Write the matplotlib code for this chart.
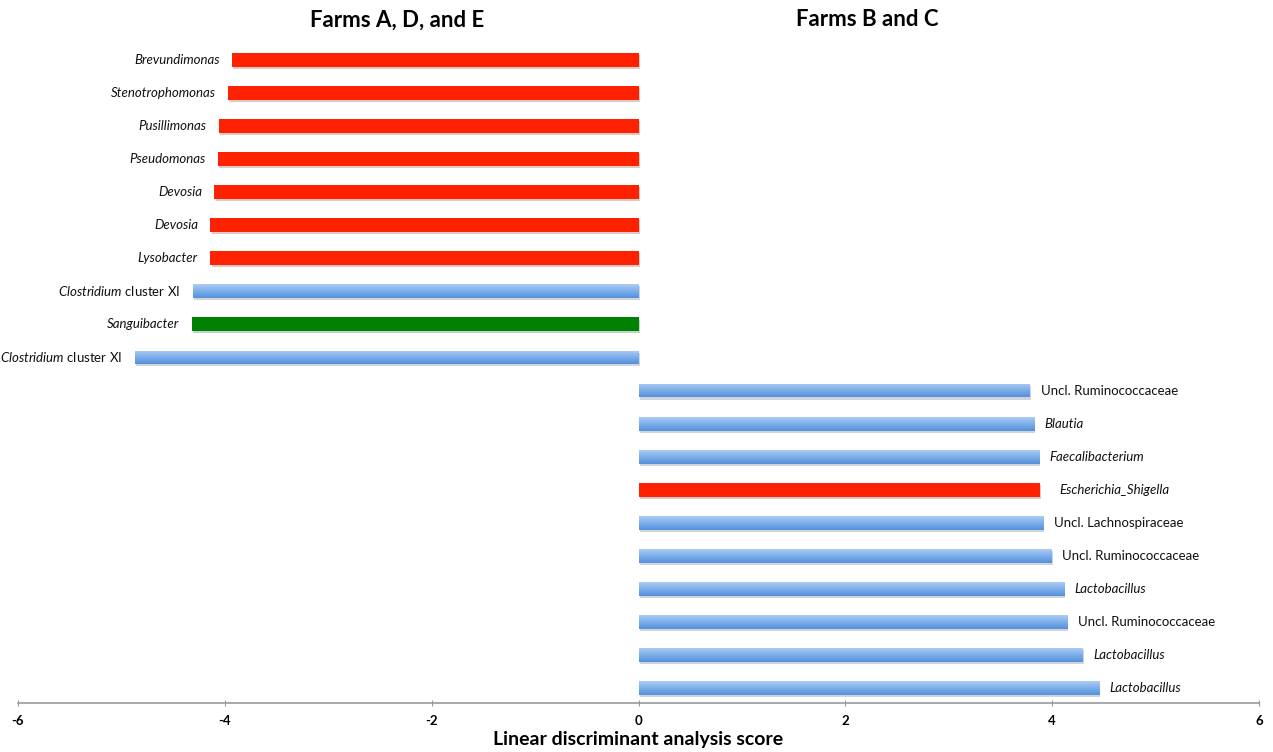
import numpy as np
import matplotlib
matplotlib.use("Agg")
import matplotlib.pyplot as plt
import matplotlib.patheffects as pe
from matplotlib.colors import LinearSegmentedColormap

plt.rcParams['font.family'] = ['Lato', 'DejaVu Sans']
plt.rcParams['mathtext.fontset'] = 'custom'
plt.rcParams['mathtext.it'] = 'Lato:italic'
plt.rcParams['mathtext.rm'] = 'Lato'

# ---- data (top to bottom) ----
taxa = [
    "Brevundimonas", "Stenotrophomonas", "Pusillimonas", "Pseudomonas",
    "Devosia", "Devosia", "Lysobacter", "Clostridium cluster XI",
    "Sanguibacter", "Clostridium cluster XI",
    "Uncl. Ruminococcaceae", "Blautia", "Faecalibacterium",
    "Escherichia_Shigella", "Uncl. Lachnospiraceae", "Uncl. Ruminococcaceae",
    "Lactobacillus", "Uncl. Ruminococcaceae", "Lactobacillus", "Lactobacillus",
]
lda_scores = [
    -3.93, -3.97, -4.06, -4.07, -4.10, -4.14, -4.14, -4.31, -4.32, -4.87,
    3.78, 3.82, 3.87, 3.88, 3.91, 3.99, 4.11, 4.14, 4.29, 4.45,
]
groups = [
    "red", "red", "red", "red", "red", "red", "red", "blue", "green", "blue",
    "blue", "blue", "blue", "red", "blue", "blue", "blue", "blue", "blue", "blue",
]
italic_label = [
    True, True, True, True, True, True, True, "mixed", True, "mixed",
    False, True, True, True, False, False, True, False, True, True,
]
side_titles = ["Farms A, D, and E", "Farms B and C"]
xticks = [-6, -4, -2, 0, 2, 4, 6]
xlabel = "Linear discriminant analysis score"

color_map = {"red": "#FF2200", "green": "#008000", "blue": "#78AAE9"}

W, H = 1273, 752
fig = plt.figure(figsize=(W / 100, H / 100), dpi=100)
ax = fig.add_axes([18 / W, 1 - 703 / H, (1259 - 18) / W, (703 - 40) / H])

y = np.arange(len(taxa))
bars = ax.barh(y, lda_scores, height=0.42,
               color=[color_map[g] for g in groups], zorder=2)

blue_cmap = LinearSegmentedColormap.from_list("bl", ["#AACCF3", "#7CAEEA", "#5590DC"])
grad = np.linspace(0, 1, 64).reshape(-1, 1)
for bar, g in zip(bars, groups):
    bar.set_path_effects([pe.SimplePatchShadow(offset=(1, -1.5), alpha=0.22, rho=0.4), pe.Normal()])
    if g == "blue":
        x0, y0, w, h = bar.get_x(), bar.get_y(), bar.get_width(), bar.get_height()
        im = ax.imshow(grad, cmap=blue_cmap, aspect='auto',
                       extent=[x0, x0 + w, y0 + h, y0], zorder=3,
                       interpolation='bilinear')
        im.set_clip_path(bar)

for yi, (name, val, it) in enumerate(zip(taxa, lda_scores, italic_label)):
    if it == "mixed":
        first, rest = name.split(" ", 1)
        txt = r"$\mathit{" + first + "}$ " + rest
        style = "normal"
    else:
        txt = name
        style = "italic" if it else "normal"
    if val < 0:
        ax.annotate(txt, (val, yi), xytext=(-9, 0), textcoords="offset points",
                    ha="right", va="center", fontsize=9.5, fontstyle=style,
                    color="#111111")
    else:
        off = 14 if name.startswith("Escherichia") else 8
        ax.annotate(txt, (val, yi), xytext=(off, 0), textcoords="offset points",
                    ha="left", va="center", fontsize=9.5, fontstyle=style,
                    color="#111111")

ax.set_xlim(-6, 6)
ax.set_ylim(19.45, -0.6)
ax.set_yticks([])
ax.set_xticks(xticks)
ax.set_xticklabels([str(t) for t in xticks], fontsize=9.5, fontweight="bold")
ax.tick_params(axis="x", direction="inout", length=5, color="#999999", pad=6)
for s in ["top", "right", "left"]:
    ax.spines[s].set_visible(False)
ax.spines["bottom"].set_color("#999999")
ax.spines["bottom"].set_linewidth(1.2)

fig.text(397 / W, 1 - 20 / H, side_titles[0], ha="center", va="center",
         fontsize=16, fontweight="bold")
fig.text(867 / W, 1 - 20 / H, side_titles[1], ha="center", va="center",
         fontsize=16, fontweight="bold")
fig.text(638 / W, 1 - 740 / H, xlabel, ha="center", va="center",
         fontsize=14, fontweight="bold")

fig.savefig("out.png", dpi=100)
